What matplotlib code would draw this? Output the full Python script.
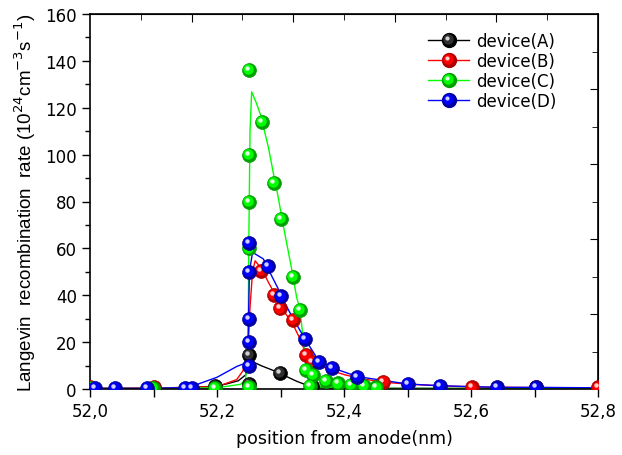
import numpy as np
import matplotlib
matplotlib.use("Agg")
import matplotlib.pyplot as plt
import matplotlib.transforms as mtransforms
from matplotlib.lines import Line2D
from matplotlib.legend_handler import HandlerTuple, HandlerLine2D
from matplotlib.ticker import FixedLocator, FuncFormatter, MultipleLocator

plt.rcParams['font.family'] = ['DejaVu Sans']

labels = ["device(A)", "device(B)", "device(C)", "device(D)"]
colors = ["#000000", "#ff0000", "#00ff00", "#0000ff"]

# ---- marker samples ----
xA = [52.0, 52.1, 52.197, 52.25, 52.25, 52.299, 52.35]
yA = [0.3, 0.3, 1.2, 2.1, 14.5, 6.8, 1.1]

xB = [52.0, 52.1, 52.269, 52.289, 52.299, 52.32, 52.34, 52.349, 52.462, 52.601, 52.702, 52.8]
yB = [0.8, 0.8, 50.5, 40.0, 34.4, 29.6, 14.5, 11.4, 2.9, 0.7, 0.7, 0.7]

xC = [52.0, 52.099, 52.197, 52.25, 52.25, 52.25, 52.25, 52.25, 52.271, 52.29, 52.30, 52.32,
      52.331, 52.34, 52.351, 52.346, 52.371, 52.391, 52.411, 52.431, 52.451]
yC = [0.5, 0.3, 0.3, 1.0, 60, 80, 100, 136, 114, 88, 72.5, 47.7,
      33.8, 8.1, 6.1, 1.4, 3.5, 2.4, 1.8, 1.4, 0.7]

xD = [52.008, 52.039, 52.089, 52.15, 52.16, 52.25, 52.25, 52.25, 52.25, 52.25, 52.28, 52.301,
      52.339, 52.361, 52.381, 52.421, 52.501, 52.551, 52.641, 52.702]
yD = [0.3, 0.3, 0.3, 0.3, 0.3, 10, 20, 30, 50, 62.3, 52.3, 39.5,
      21.3, 11.7, 9.1, 5.3, 2.1, 1.4, 0.7, 0.7]

# ---- simulated curves ----
cxA = [52.0, 52.1, 52.15, 52.197, 52.2126, 52.2335, 52.245, 52.25, 52.253, 52.256, 52.262,
       52.27, 52.285, 52.299, 52.312, 52.3255, 52.338, 52.35, 52.365, 52.38, 52.45, 52.8]
cyA = [0.2, 0.3, 0.5, 1.2, 2.0, 3.5, 6.0, 9.5, 10.9, 11.3, 10.9, 9.9, 8.3, 6.8, 5.0, 3.3,
       2.0, 1.1, 0.7, 0.5, 0.3, 0.2]

cxB = [52.0, 52.1, 52.2, 52.231, 52.241, 52.249, 52.252, 52.256, 52.26, 52.27, 52.281, 52.291,
       52.297, 52.318, 52.331, 52.341, 52.357, 52.381, 52.402, 52.43, 52.462, 52.5, 52.55,
       52.6, 52.7, 52.8]
cyB = [0.3, 0.4, 1.0, 4.0, 7.8, 17, 35, 50, 54.7, 51.4, 45.5, 40.5, 36.3, 28.4, 21.3, 14.2,
       10.7, 7.8, 6.0, 4.3, 2.9, 2.1, 1.4, 0.9, 0.6, 0.5]

cxC = [52.0, 52.1, 52.2, 52.237, 52.245, 52.249, 52.250, 52.252, 52.2546, 52.262, 52.269, 52.281,
       52.290, 52.294, 52.3044, 52.3176, 52.3255, 52.3307, 52.334, 52.3386, 52.344, 52.3517,
       52.37, 52.4, 52.5, 52.8]
cyC = [0.2, 0.2, 0.5, 2.0, 4.0, 20, 60, 110, 126.8, 122, 116.6, 103, 90.3, 85.3, 69.7, 51.2, 39,
       34, 25.6, 14.2, 5.7, 1.4, 0.6, 0.3, 0.2, 0.2]

cxD = [52.0, 52.1, 52.15, 52.163, 52.2, 52.231, 52.247, 52.249, 52.251, 52.256, 52.273, 52.286,
       52.2965, 52.301, 52.32, 52.3386, 52.361, 52.381, 52.421, 52.501, 52.551, 52.641, 52.702, 52.8]
cyD = [0.2, 0.3, 0.6, 1.4, 5.0, 9.6, 11.3, 20, 50, 58.3, 55.5, 48.3, 42.7, 39.5, 30, 21.3,
       11.7, 9.1, 5.3, 2.1, 1.4, 0.7, 0.7, 0.5]

xticks = [52.0, 52.2, 52.4, 52.6, 52.8]
yticks = [0, 20, 40, 60, 80, 100, 120, 140, 160]


class OffsetMarkerHandler(HandlerLine2D):
    def __init__(self, dx, dy, **kw):
        super().__init__(**kw)
        self.dx, self.dy = dx, dy

    def create_artists(self, legend, orig_handle, xdescent, ydescent, width, height,
                       fontsize, trans):
        arts = super().create_artists(legend, orig_handle, xdescent, ydescent, width,
                                      height, fontsize, trans)
        for a in arts:
            a.set_xdata(np.asarray(a.get_xdata(), float) + self.dx)
            a.set_ydata(np.asarray(a.get_ydata(), float) + self.dy)
        return arts


fig = plt.figure(figsize=(6.22, 4.56), dpi=100)
ax = fig.add_axes([90/622, 1-390/456, 508/622, 375/456])

markers = [(xA, yA), (xB, yB), (xC, yC), (xD, yD)]
curves = [(cxA, cyA), (cxB, cyB), (cxC, cyC), (cxD, cyD)]
dark = ["#000000", "#b00000", "#00a000", "#0000a0"]
mid = ["#303030", "#ff0000", "#00ff00", "#0000ff"]
hi = ["#d0d0d0", "#ffd0d0", "#e0ffe0", "#d0d0ff"]

hl_tr = mtransforms.offset_copy(ax.transData, fig=fig, x=-2.0, y=2.0, units='dots')
mid_tr = mtransforms.offset_copy(ax.transData, fig=fig, x=-0.8, y=0.8, units='dots')
for (cx, cy), c in zip(curves, colors):
    ax.plot(cx, cy, '-', color=c, lw=1.0, zorder=2)

handles = []
hmap = {tuple: HandlerTuple(ndivide=1, pad=0)}
for i, ((mx, my), c) in enumerate(zip(markers, colors)):
    z = 3 + i * 0.1
    ax.plot(mx, my, 'o', ms=10, mfc=dark[i], mec=dark[i], mew=0.5, ls='none', zorder=z)
    ax.plot(mx, my, 'o', ms=7.5, mfc=mid[i], mec='none', ls='none', zorder=z + 0.01,
            transform=mid_tr)
    ax.plot(mx, my, 'o', ms=3.2, mfc=hi[i], mec='none', ls='none', zorder=z + 0.02, transform=hl_tr)
    h1 = Line2D([], [], color=c, lw=1.0, marker='o', ms=10, mfc=dark[i], mec=dark[i])
    h2 = Line2D([], [], ls='none', marker='o', ms=7.5, mfc=mid[i], mec='none')
    h3 = Line2D([], [], ls='none', marker='o', ms=3.0, mfc=hi[i], mec='none')
    hmap[h2] = OffsetMarkerHandler(-0.6, 0.6)
    hmap[h3] = OffsetMarkerHandler(-1.5, 1.5)
    handles.append((h1, h2, h3))

ax.set_xlim(52.0, 52.8)
ax.set_ylim(0, 160)
ax.set_xticks(xticks)
ax.xaxis.set_minor_locator(MultipleLocator(0.1))
ax.set_yticks(yticks)
ax.yaxis.set_minor_locator(MultipleLocator(10))
ax.xaxis.set_major_formatter(FuncFormatter(lambda v, p: f"{v:.1f}".replace('.', ',')))
ax.tick_params(axis='both', which='major', direction='out', length=6, width=1, labelsize=12)
ax.tick_params(axis='both', which='minor', direction='out', length=3.5, width=1)
ax.tick_params(axis='x', which='minor', length=6)
for s in ax.spines.values():
    s.set_linewidth(1.2)

# top and right decorative ticks (inward)
sx = ax.secondary_xaxis('top')
sx.set_xticks([52.16, 52.32, 52.48, 52.64])
sx.xaxis.set_minor_locator(FixedLocator([52.08, 52.24, 52.40, 52.56, 52.72]))
sx.tick_params(which='major', direction='in', length=6, labeltop=False)
sx.tick_params(which='minor', direction='in', length=4)
sy = ax.secondary_yaxis('right')
sy.set_yticks([32, 64, 96, 128])
sy.yaxis.set_minor_locator(FixedLocator([16, 48, 80, 112, 144]))
sy.tick_params(which='major', direction='in', length=6, labelright=False)
sy.tick_params(which='minor', direction='in', length=4)

ax.set_xlabel("position from anode(nm)", fontsize=12.5, labelpad=6)
ax.set_ylabel(r"Langevin  recombination  rate (10$^{24}$cm$^{-3}$s$^{-1}$)",
              fontsize=13.5, family=['Liberation Sans', 'DejaVu Sans'], labelpad=5)

ax.legend(handles, labels, handler_map=hmap,
          loc='upper left', bbox_to_anchor=(0.665, 0.952), frameon=False, fontsize=12,
          borderpad=0, borderaxespad=0, handlelength=2.5, handletextpad=0.4, labelspacing=0.12)

fig.savefig("out.png", dpi=100)
